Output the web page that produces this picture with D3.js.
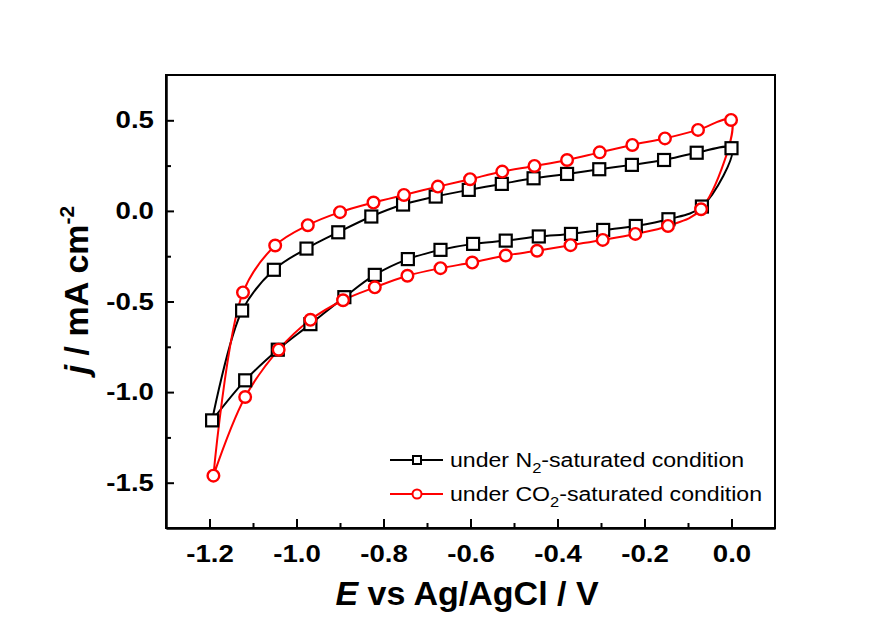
<!DOCTYPE html>
<html>
<head>
<meta charset="utf-8">
<script src="https://cdn.jsdelivr.net/npm/d3@7"></script>
<style>
  body { margin: 0; background: #fff; }
  text { font-family: "Liberation Sans", Arial, sans-serif; }
</style>
</head>
<body>
<div id="chart"></div>
<script>
// CV curves, N2 vs CO2 saturated

// N2 series: vertex, anodic branch (up to 0 V), cathodic branch (back down)
const n2Vertex = {E: -1.194, j: -1.156};
const n2UpE = [-1.125, -1.052, -0.977, -0.904, -0.828, -0.755, -0.68, -0.604, -0.528, -0.455, -0.378, -0.304, -0.229, -0.155, -0.08, 0.0];
const n2UpJ = [-0.55, -0.325, -0.208, -0.118, -0.031, 0.035, 0.079, 0.116, 0.149, 0.18, 0.204, 0.23, 0.254, 0.281, 0.321, 0.346];
const n2DownE = [-0.068, -0.145, -0.22, -0.295, -0.369, -0.443, -0.519, -0.594, -0.669, -0.744, -0.82, -0.89, -0.968, -1.043, -1.118];
const n2DownJ = [0.024, -0.046, -0.083, -0.105, -0.127, -0.141, -0.164, -0.182, -0.215, -0.266, -0.353, -0.476, -0.625, -0.766, -0.935];

// CO2 series
const co2Vertex = {E: -1.191, j: -1.461};
const co2UpE = [-1.123, -1.049, -0.974, -0.9, -0.823, -0.753, -0.675, -0.601, -0.527, -0.453, -0.378, -0.303, -0.228, -0.153, -0.077, -0.001];
const co2UpJ = [-0.45, -0.191, -0.079, -0.007, 0.046, 0.088, 0.134, 0.175, 0.217, 0.248, 0.281, 0.323, 0.364, 0.40, 0.447, 0.502];
const co2DownE = [-0.07, -0.146, -0.221, -0.296, -0.37, -0.447, -0.519, -0.596, -0.669, -0.745, -0.82, -0.893, -0.968, -1.041, -1.118];
const co2DownJ = [0.009, -0.083, -0.127, -0.160, -0.189, -0.220, -0.246, -0.285, -0.316, -0.358, -0.422, -0.493, -0.601, -0.766, -1.027];

const xTicks = [-1.2, -1.0, -0.8, -0.6, -0.4, -0.2, 0.0];
const xMinor = [-1.1, -0.9, -0.7, -0.5, -0.3, -0.1];
const yTicks = [-1.5, -1.0, -0.5, 0.0, 0.5];
const yMinor = [-1.25, -0.75, -0.25, 0.25];

const width = 883, height = 624;
const margin = {top: 75, right: 108, bottom: 96, left: 166};
const w = width - margin.left - margin.right;
const h = height - margin.top - margin.bottom;

const svg = d3.select("#chart")
    .append("svg")
    .attr("width", width)
    .attr("height", height);

const g = svg.append("g")
    .attr("transform", `translate(${margin.left},${margin.top})`);

const x = d3.scaleLinear().domain([-1.3, 0.1]).range([0, w]);
const y = d3.scaleLinear().domain([-1.75, 0.75]).range([h, 0]);

// build loop: vertex -> up branch -> down branch -> vertex
function loop(vertex, upE, upJ, downE, downJ) {
    const pts = [vertex];
    upE.forEach((e, i) => pts.push({E: e, j: upJ[i]}));
    downE.forEach((e, i) => pts.push({E: e, j: downJ[i]}));
    pts.push(vertex);
    return pts;
}
const n2 = loop(n2Vertex, n2UpE, n2UpJ, n2DownE, n2DownJ);
const co2 = loop(co2Vertex, co2UpE, co2UpJ, co2DownE, co2DownJ);

// axes (plain hyphen minus like the original)
const fmt = d => d.toFixed(1);
const xAxis = g.append("g")
    .attr("transform", `translate(0,${h})`)
    .call(d3.axisBottom(x).tickValues(xTicks).tickFormat(fmt).tickSize(-9).tickSizeOuter(0).tickPadding(17));
const xAxisMinor = g.append("g")
    .attr("transform", `translate(0,${h})`)
    .call(d3.axisBottom(x).tickValues(xMinor).tickFormat("").tickSize(-5).tickSizeOuter(0));
const yAxis = g.append("g")
    .call(d3.axisLeft(y).tickValues(yTicks).tickFormat(fmt).tickSize(-8).tickSizeOuter(0).tickPadding(11));
const yAxisMinor = g.append("g")
    .call(d3.axisLeft(y).tickValues(yMinor).tickFormat("").tickSize(-5).tickSizeOuter(0));

[xAxis, xAxisMinor, yAxis, yAxisMinor].forEach(a => {
    a.selectAll("path, line").attr("stroke", "#000").attr("stroke-width", 2);
    a.selectAll("text")
        .attr("fill", "#000")
        .style("font-size", "24px")
        .style("font-weight", "bold")
        .attr("transform", "scale(1.15,1)");
});
yAxis.selectAll("text").attr("x", -10.5);

// frame
g.append("rect")
    .attr("width", w)
    .attr("height", h)
    .attr("fill", "none")
    .attr("stroke", "#000")
    .attr("stroke-width", 2);

// curves
const line = d3.line()
    .x(d => x(d.E))
    .y(d => y(d.j))
    .curve(d3.curveCatmullRom.alpha(0.5));

g.append("path").datum(n2)
    .attr("d", line).attr("fill", "none").attr("stroke", "#000").attr("stroke-width", 2);
g.append("path").datum(co2)
    .attr("d", line).attr("fill", "none").attr("stroke", "#ff0000").attr("stroke-width", 2);

const sq = 12;
g.append("g").selectAll("rect")
    .data(n2.slice(0, -1))
    .enter().append("rect")
    .attr("x", d => x(d.E) - sq / 2)
    .attr("y", d => y(d.j) - sq / 2)
    .attr("width", sq)
    .attr("height", sq)
    .attr("fill", "#fff")
    .attr("stroke", "#000")
    .attr("stroke-width", 2.2);

g.append("g").selectAll("circle")
    .data(co2.slice(0, -1))
    .enter().append("circle")
    .attr("cx", d => x(d.E))
    .attr("cy", d => y(d.j))
    .attr("r", 5.8)
    .attr("fill", "#fff")
    .attr("stroke", "#ff0000")
    .attr("stroke-width", 2.4);

// axis titles
const xt = svg.append("text")
    .attr("x", 467)
    .attr("y", 605)
    .attr("text-anchor", "middle")
    .style("font-size", "34px")
    .style("font-weight", "bold");
xt.append("tspan").style("font-style", "italic").text("E");
xt.append("tspan").text(" vs Ag/AgCl / V");

const yt = svg.append("text")
    .attr("transform", "translate(88,290) rotate(-90)")
    .attr("text-anchor", "middle")
    .style("font-size", "34px")
    .style("font-weight", "bold");
yt.append("tspan").style("font-style", "italic").text("j");
yt.append("tspan").text(" / mA cm");
yt.append("tspan").attr("dy", -14).style("font-size", "21px").text("-2");

// legend
const legendItems = [
    {name: "N", color: "#000", shape: "square"},
    {name: "CO", color: "#ff0000", shape: "circle"}
];
const legend = svg.append("g")
    .selectAll("g")
    .data(legendItems)
    .enter().append("g")
    .attr("transform", (d, i) => `translate(390,${460 + i * 34})`);

legend.append("line")
    .attr("x1", 0).attr("x2", 53)
    .attr("stroke", d => d.color)
    .attr("stroke-width", 2);
legend.filter(d => d.shape === "square").append("rect")
    .attr("x", 27 - 4).attr("y", -4)
    .attr("width", 8).attr("height", 8)
    .attr("fill", "#fff").attr("stroke", "#000").attr("stroke-width", 2);
legend.filter(d => d.shape === "circle").append("circle")
    .attr("cx", 27).attr("r", 4.5)
    .attr("fill", "#fff").attr("stroke", "#ff0000").attr("stroke-width", 2);

const lt = legend.append("text")
    .attr("x", 60 / 1.1)
    .attr("y", 7)
    .attr("transform", "scale(1.1,1)")
    .style("font-size", "21px");
lt.append("tspan").text(d => "under " + d.name);
lt.append("tspan").attr("dy", 6).style("font-size", "15px").text("2");
lt.append("tspan").attr("dy", -6).text("-saturated condition");
</script>
</body>
</html>
